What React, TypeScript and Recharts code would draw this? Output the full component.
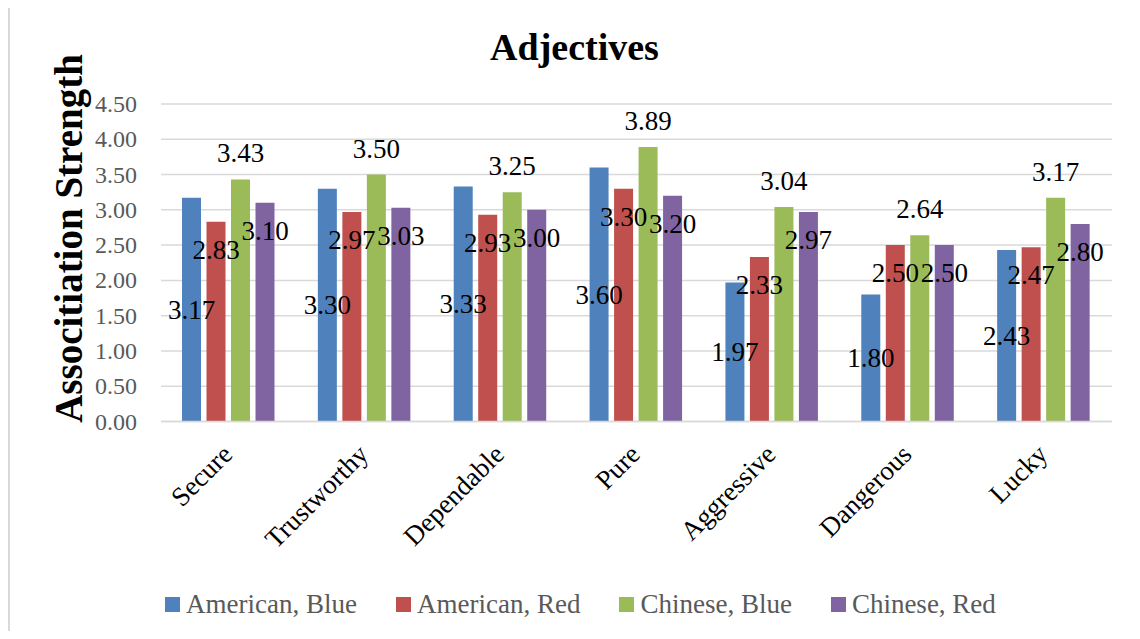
import React from 'react';
import { BarChart, Bar, XAxis, YAxis, CartesianGrid, LabelList } from 'recharts';

// chart values
const categories = ['Secure', 'Trustworthy', 'Dependable', 'Pure', 'Aggressive', 'Dangerous', 'Lucky'];
const americanBlue = [3.17, 3.30, 3.33, 3.60, 1.97, 1.80, 2.43];
const americanRed = [2.83, 2.97, 2.93, 3.30, 2.33, 2.50, 2.47];
const chineseBlue = [3.43, 3.50, 3.25, 3.89, 3.04, 2.64, 3.17];
const chineseRed = [3.10, 3.03, 3.00, 3.20, 2.97, 2.50, 2.80];
const yTicks = [0, 0.5, 1, 1.5, 2, 2.5, 3, 3.5, 4, 4.5];

const FONT = '"Liberation Serif", "Times New Roman", serif';

const series = [
  { key: 'americanBlue', name: 'American, Blue', color: '#4F81BD', labelPos: 'center' },
  { key: 'americanRed', name: 'American, Red', color: '#C0504D', labelPos: 'inside' },
  { key: 'chineseBlue', name: 'Chinese, Blue', color: '#9BBB59', labelPos: 'outside' },
  { key: 'chineseRed', name: 'Chinese, Red', color: '#8064A2', labelPos: 'inside' },
];

const data = categories.map((name, i) => ({
  name,
  americanBlue: americanBlue[i],
  americanRed: americanRed[i],
  chineseBlue: chineseBlue[i],
  chineseRed: chineseRed[i],
}));

const W = 1132;
const H = 623;
const margin = { top: 96, right: 28, bottom: 109.5, left: 0 };

const CategoryTick = (props: any) => {
  const { x, y, payload } = props;
  const tx = x + 5;
  const ty = y + 34.5;
  return (
    <text
      x={tx}
      y={ty}
      transform={`rotate(-45, ${tx}, ${ty})`}
      textAnchor="end"
      fontSize={27}
      fontFamily={FONT}
      fill="#000"
    >
      {payload.value}
    </text>
  );
};

const ValueTick = (props: any) => {
  const { x, y, payload } = props;
  return (
    <text x={x - 24} y={y + 8} textAnchor="end" fontSize={24} fontFamily={FONT} fill="#595959">
      {Number(payload.value).toFixed(2)}
    </text>
  );
};

// Excel-style data labels: centred, inside end or outside end
const renderLabel = (p: any, mode: string) => {
  const x = Number(p.x);
  const y = Number(p.y);
  const w = Number(p.width);
  const h = Number(p.height);
  let cy = y + h / 2;
  if (mode === 'inside') cy = y + 28;
  if (mode === 'outside') cy = y - 26;
  return (
    <text x={x + w / 2} y={cy + 9} textAnchor="middle" fontSize={27} fontFamily={FONT} fill="#000">
      {Number(p.value).toFixed(2)}
    </text>
  );
};

const ChartLayer = ({ labels }: { labels: boolean }) => (
  <div style={{ position: 'absolute', left: 0, top: 0 }}>
    <BarChart width={W} height={H} data={data} margin={margin} barCategoryGap={21} barGap={5.5}>
      {!labels && <CartesianGrid vertical={false} stroke="#D9D9D9" strokeWidth={1.5} />}
      <XAxis
        dataKey="name"
        height={100}
        interval={0}
        tickSize={0}
        tickMargin={0}
        tickLine={false}
        axisLine={labels ? false : { stroke: '#D9D9D9', strokeWidth: 1.5 }}
        tick={labels ? false : (p: any) => <CategoryTick {...p} />}
      />
      <YAxis
        width={153}
        domain={[0, 4.5]}
        ticks={yTicks}
        tickSize={0}
        tickMargin={0}
        tickLine={false}
        axisLine={false}
        tick={labels ? false : (p: any) => <ValueTick {...p} />}
      />
      {series.map((s) => (
        <Bar
          key={s.key}
          dataKey={s.key}
          name={s.name}
          fill={labels ? 'transparent' : s.color}
          isAnimationActive={false}
        >
          {labels && (
            <LabelList dataKey={s.key} content={(p: any) => renderLabel(p, s.labelPos)} />
          )}
        </Bar>
      ))}
    </BarChart>
  </div>
);

export default function App() {
  return (
    <div style={{ position: 'relative', width: W, height: H, fontFamily: FONT }}>
      <div
        style={{
          position: 'absolute',
          left: 0,
          top: -2,
          width: W,
          height: H + 2,
          borderLeft: '2px solid #D9D9D9',
          borderTop: '2px solid #D9D9D9',
          boxSizing: 'border-box',
        }}
      />
      <ChartLayer labels={false} />
      <ChartLayer labels={true} />
      <svg width={W} height={H} style={{ position: 'absolute', left: 0, top: 0, pointerEvents: 'none' }}>
        <text x={566.5} y={52} textAnchor="middle" fontSize={38} fontWeight="bold" fontFamily={FONT} fill="#000">
          Adjectives
        </text>
        <text
          x={74}
          y={230.5}
          transform="rotate(-90, 74, 230.5)"
          textAnchor="middle"
          fontSize={39}
          fontWeight="bold"
          fontFamily={FONT}
          fill="#000"
        >
          Associtiation Strength
        </text>
      </svg>
      <div
        style={{
          position: 'absolute',
          left: 157,
          top: 582.5,
          display: 'flex',
          alignItems: 'center',
          gap: 39,
          fontSize: 27,
          lineHeight: '27px',
          color: '#595959',
        }}
      >
        {series.map((s) => (
          <div key={s.key} style={{ display: 'flex', alignItems: 'center', gap: 6 }}>
            <span style={{ width: 15, height: 15, background: s.color, display: 'inline-block' }} />
            <span>{s.name}</span>
          </div>
        ))}
      </div>
    </div>
  );
}
